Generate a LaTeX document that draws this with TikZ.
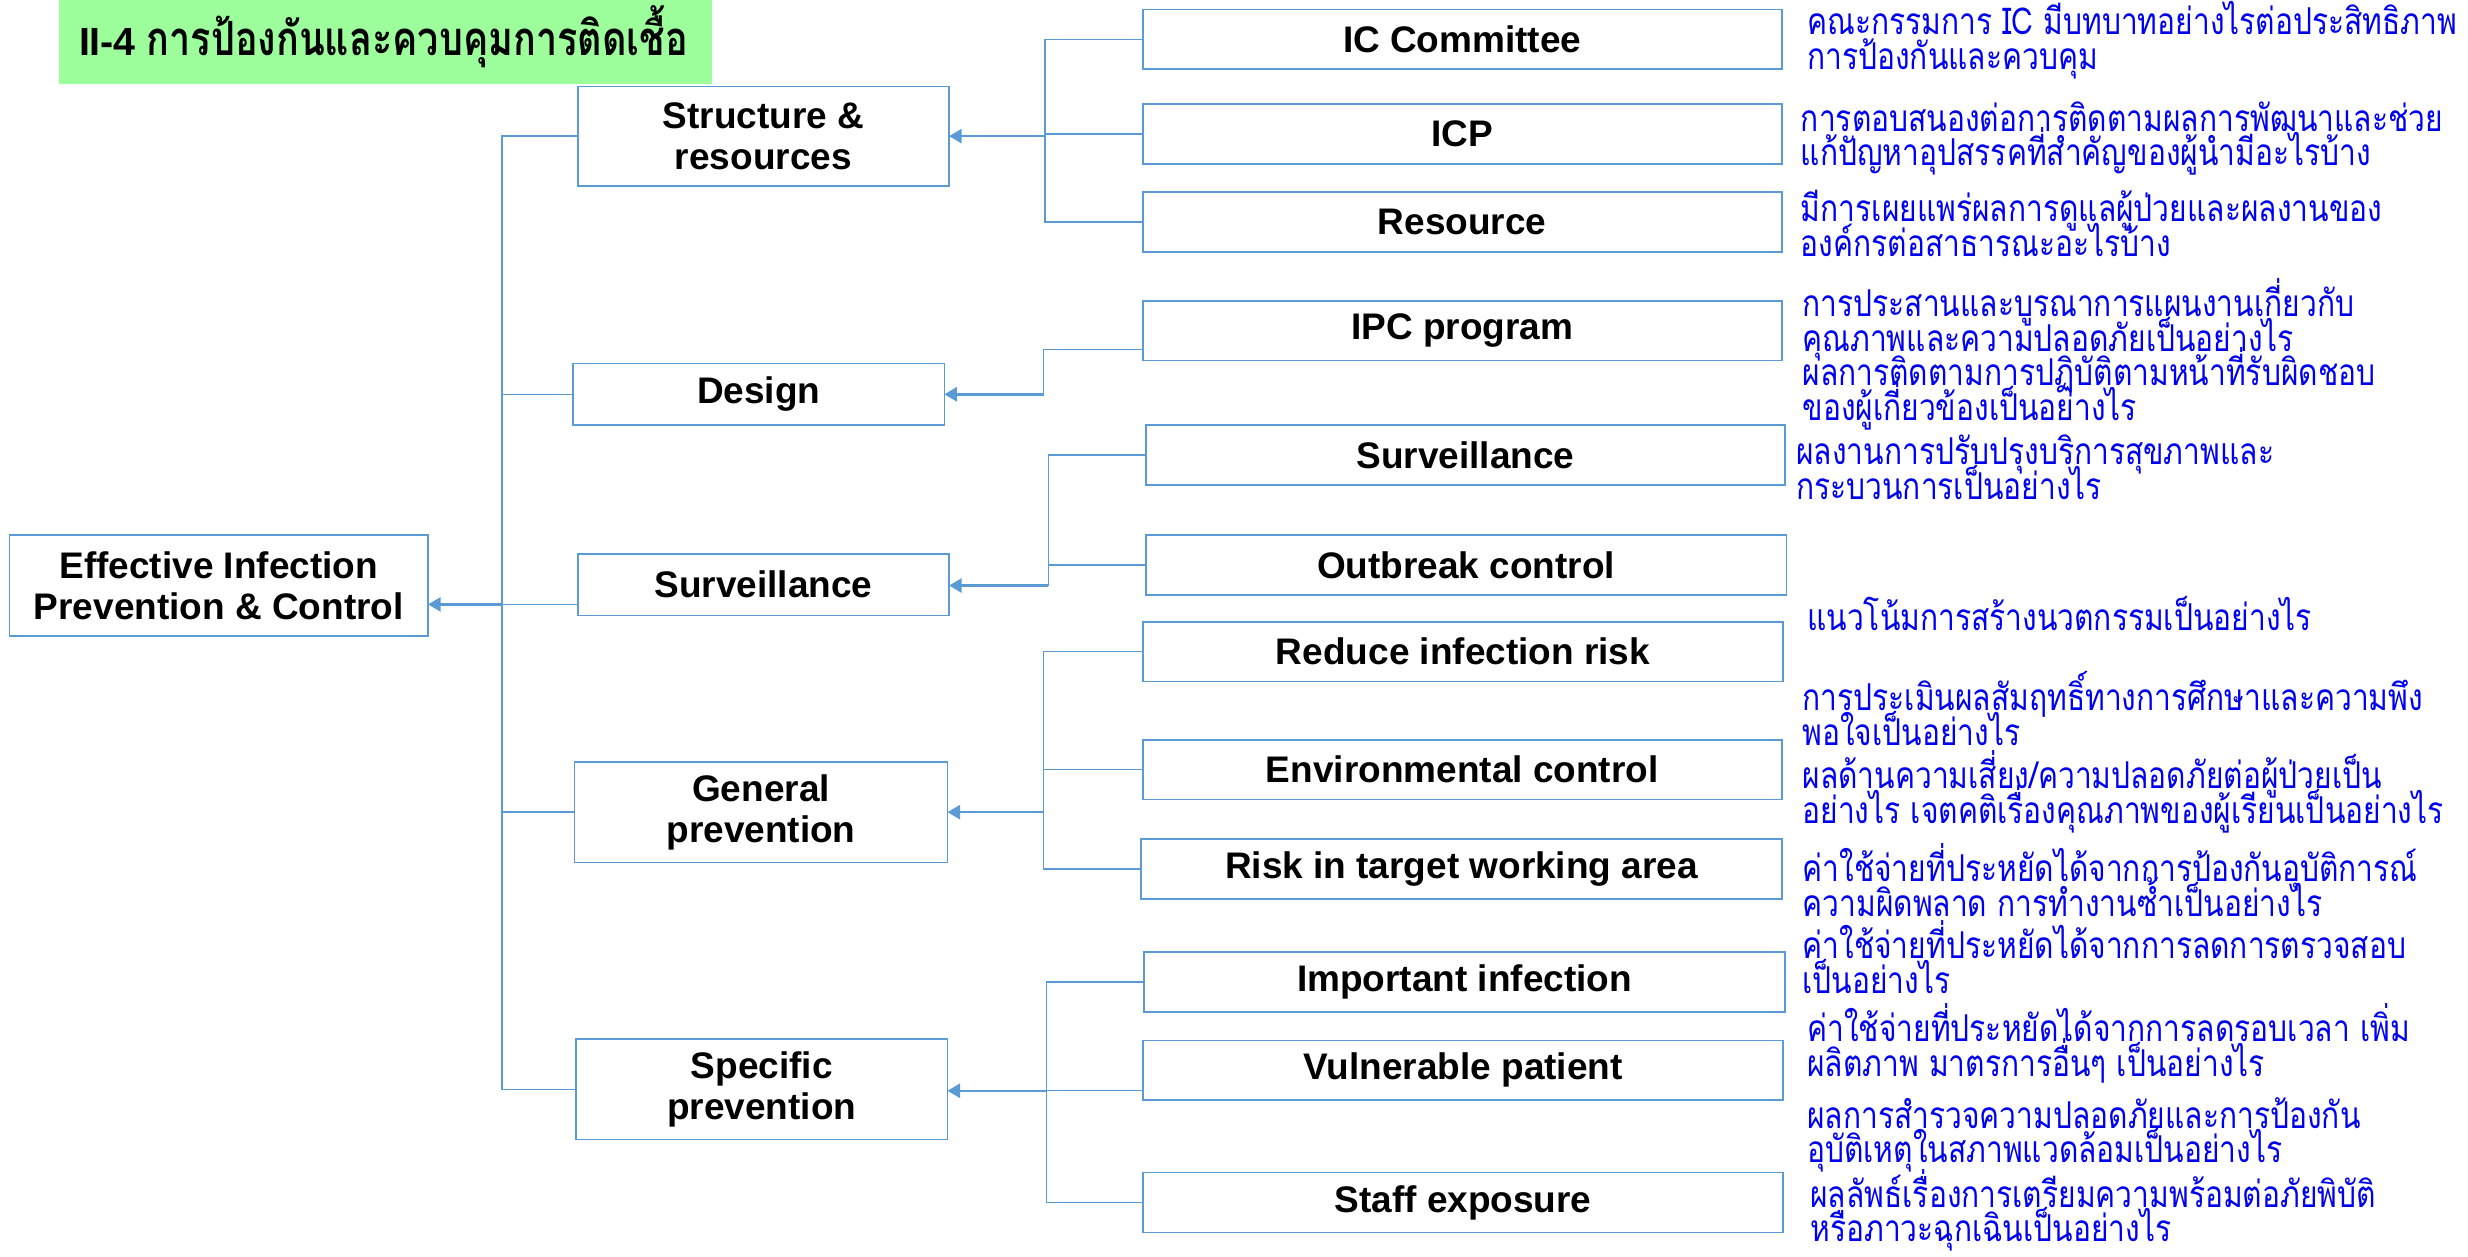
\documentclass[tikz,border=0pt]{standalone}
\usepackage{fontspec}
\usetikzlibrary{arrows.meta}
\setmainfont{Liberation Sans}
\newfontfamily\thaifont[Script=Thai,FakeStretch=0.81]{Loma}
\newfontfamily\thaihead[Script=Thai,FakeStretch=0.8]{Loma}
\definecolor{edge}{HTML}{5B9BD5}
\definecolor{note}{HTML}{0000F0}
\definecolor{titlebg}{HTML}{9CFF9C}
\newcommand\tightlines{\lineskiplimit=-50pt\relax\lineskip=0pt\relax}
\begin{document}
\begin{tikzpicture}[x=1pt,y=-1pt,
  box/.style={draw=edge, line width=1.1pt, fill=white, inner sep=0pt, outer sep=0pt,
    anchor=north west, align=center, font=\bfseries\fontsize{23.5}{26}\selectfont},
  conn/.style={draw=edge, line width=0.9pt},
  arr/.style={draw=edge, line width=1.6pt, -{Triangle[length=8pt,width=9pt]}},
  note/.style={anchor=west, inner sep=0pt, align=left, text=note,
    font=\thaifont\fontsize{23.5}{22}\selectfont,
    execute at begin node=\tightlines}]
\useasboundingbox (0,0) rectangle (1568,798);

% heading
\node[fill=titlebg, anchor=north west, minimum width=415pt, minimum height=53pt,
  inner sep=0pt] (title) at (37,0) {};
\node[anchor=west, inner sep=0pt] (titletext) at (50,23)
  {\bfseries\fontsize{25}{27}\selectfont II-4 {\thaihead\bfseries\fontsize{30}{30}\selectfont การป้องกันและควบคุมการติดเชื้อ}};

% root
\node[box, minimum width=266pt, minimum height=64pt] (root) at (6,340) {Effective Infection\\Prevention \& Control};

% second level
\node[box, minimum width=236pt, minimum height=63pt] (str) at (367,55) {Structure \&\\resources};
\node[box, minimum width=236pt, minimum height=39pt] (des) at (364,231) {Design};
\node[box, minimum width=236pt, minimum height=39pt] (survm) at (367,352) {Surveillance};
\node[box, minimum width=237pt, minimum height=64pt] (gen) at (365,484) {General\\prevention};
\node[box, minimum width=236pt, minimum height=64pt] (spec) at (366,660) {Specific\\prevention};

% third level
\node[box, minimum width=406pt, minimum height=38pt] (icc) at (726,6) {IC Committee};
\node[box, minimum width=406pt, minimum height=38pt] (icp) at (726,66) {ICP};
\node[box, minimum width=406pt, minimum height=38pt] (res) at (726,122) {Resource};
\node[box, minimum width=406pt, minimum height=38pt] (ipc) at (726,191) {IPC program};
\node[box, minimum width=406pt, minimum height=38pt] (survr) at (728,270) {Surveillance};
\node[box, minimum width=407pt, minimum height=38pt] (outb) at (728,340) {Outbreak control};
\node[box, minimum width=407pt, minimum height=38pt] (red) at (726,395) {Reduce infection risk};
\node[box, minimum width=406pt, minimum height=38pt] (env) at (726,470) {Environmental control};
\node[box, minimum width=407pt, minimum height=38pt] (risk) at (725,533) {Risk in target working area};
\node[box, minimum width=407pt, minimum height=38pt] (imp) at (727,605) {Important infection};
\node[box, minimum width=407pt, minimum height=38pt] (vul) at (726,661) {Vulnerable patient};
\node[box, minimum width=407pt, minimum height=38pt] (staff) at (726,745) {Staff exposure};

% junction points
\coordinate (m) at (319,384);
\coordinate (g1) at (664,86.5);
\coordinate (g2) at (663,222);
\coordinate (g3) at (666,372);
\coordinate (g4) at (663,516);
\coordinate (g5) at (665,693);

% root branch
\draw[conn] (str.west) -- (str.west -| m) -- (spec.west -| m) -- (spec.west);
\draw[conn] (des.west) -- (des.west -| m);
\draw[conn] (survm.west |- m) -- (m);
\draw[conn] (gen.west) -- (gen.west -| m);
\draw[arr] (m) -- (root.east |- m);

% structure branch
\draw[conn] (icc.west) -- (icc.west -| g1) -- (res.west -| g1) -- (res.west);
\draw[conn] (icp.west) -- (icp.west -| g1);
\draw[arr] (str.east -| g1) -- (str.east);

% design branch
\draw[conn] (ipc.west |- g2) -- (g2) -- (des.east -| g2);
\draw[arr] (des.east -| g2) -- (des.east);

% surveillance branch
\draw[conn] (survr.west) -- (survr.west -| g3) -- (g3);
\draw[conn] (outb.west) -- (outb.west -| g3);
\draw[arr] (g3) -- (survm.east |- g3);

% general prevention branch
\draw[conn] (red.west) -- (red.west -| g4) -- (risk.west -| g4) -- (risk.west);
\draw[conn] (env.west) -- (env.west -| g4);
\draw[arr] (g4) -- (gen.east |- g4);

% specific prevention branch
\draw[conn] (imp.west) -- (imp.west -| g5) -- (staff.west -| g5) -- (staff.west);
\draw[conn] (vul.west |- g5) -- (g5);
\draw[arr] (g5) -- (spec.east |- g5);

% questions
\node[note] (q1) at (1148,25.5) {คณะกรรมการ IC มีบทบาทอย่างไรต่อประสิทธิภาพ\\การป้องกันและควบคุม};
\node[note] (q2) at (1144,88) {การตอบสนองต่อการติดตามผลการพัฒนาและช่วย\\แก้ปัญหาอุปสรรคที่สำคัญของผู้นำมีอะไรบ้าง};
\node[note] (q3) at (1144,142) {มีการเผยแพร่ผลการดูแลผู้ป่วยและผลงานของ\\องค์กรต่อสาธารณะอะไรบ้าง};
\node[note] (q4) at (1145,225) {การประสานและบูรณาการแผนงานเกี่ยวกับ\\คุณภาพและความปลอดภัยเป็นอย่างไร\\ผลการติดตามการปฏิบัติตามหน้าที่รับผิดชอบ\\ของผู้เกี่ยวข้องเป็นอย่างไร};
\node[note] (q5) at (1141,297) {ผลงานการปรับปรุงบริการสุขภาพและ\\กระบวนการเป็นอย่างไร};
\node[note] (q6) at (1148,390) {แนวโน้มการสร้างนวตกรรมเป็นอย่างไร};
\node[note] (q7) at (1145,450) {การประเมินผลสัมฤทธิ์ทางการศึกษาและความพึง\\พอใจเป็นอย่างไร};
\node[note] (q8) at (1145,503) {ผลด้านความเสี่ยง/ความปลอดภัยต่อผู้ป่วยเป็น\\อย่างไร เจตคติเรื่องคุณภาพของผู้เรียนเป็นอย่างไร};
\node[note] (q9) at (1145,559) {ค่าใช้จ่ายที่ประหยัดได้จากการป้องกันอุบัติการณ์\\ความผิดพลาด การทำงานซ้ำเป็นอย่างไร};
\node[note] (q10) at (1145,608) {ค่าใช้จ่ายที่ประหยัดได้จากการลดการตรวจสอบ\\เป็นอย่างไร};
\node[note] (q11) at (1148,663) {ค่าใช้จ่ายที่ประหยัดได้จากการลดรอบเวลา เพิ่ม\\ผลิตภาพ มาตรการอื่นๆ เป็นอย่างไร};
\node[note] (q12) at (1148,721) {ผลการสำรวจความปลอดภัยและการป้องกัน\\อุบัติเหตุในสภาพแวดล้อมเป็นอย่างไร};
\node[note] (q13) at (1150,769) {ผลลัพธ์เรื่องการเตรียมความพร้อมต่อภัยพิบัติ\\หรือภาวะฉุกเฉินเป็นอย่างไร};
\end{tikzpicture}
\end{document}
